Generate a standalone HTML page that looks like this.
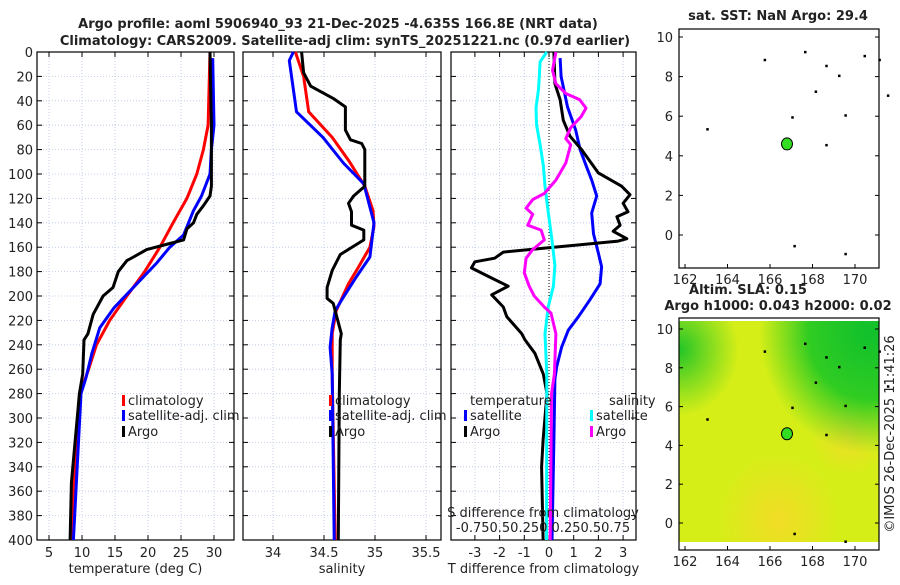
<!DOCTYPE html>
<html><head><meta charset="utf-8"><style>
body{margin:0;background:#fff;width:900px;height:580px;overflow:hidden}
svg{font-family:"DejaVu Sans","Liberation Sans",sans-serif}
</style></head><body>
<svg id="c" width="900" height="580" xmlns="http://www.w3.org/2000/svg">
<defs>
<radialGradient id="g1" cx="0.95" cy="0.05" r="0.55"><stop offset="0" stop-color="#10c02c"/><stop offset="0.55" stop-color="#30cc22"/><stop offset="1" stop-color="#3fd020" stop-opacity="0"/></radialGradient>
<radialGradient id="g2" cx="0" cy="0.13" r="0.3"><stop offset="0" stop-color="#20c428"/><stop offset="1" stop-color="#2fcb25" stop-opacity="0"/></radialGradient>
<radialGradient id="g3" cx="0.5" cy="0.9" r="0.3"><stop offset="0" stop-color="#f2dc26"/><stop offset="1" stop-color="#f2dc26" stop-opacity="0"/></radialGradient>
<radialGradient id="g4" cx="0.85" cy="0.5" r="0.2"><stop offset="0" stop-color="#f0dc28"/><stop offset="1" stop-color="#f0dc28" stop-opacity="0"/></radialGradient>
</defs>
</svg>
<script>
// ---- data (each series: depths + values) ----
const tempClimDepth = [0,60,80,100,120,140,160,180,200,220,240,260,280,318,359,400];
const tempClim = [29.4,29.1,28.4,27.4,25.9,23.8,21.8,19.5,16.8,14.2,12.2,11.0,9.7,9.2,8.7,8.4];
const tempSatDepth = [5,60,80,100,118,130,150,160,173,190,210,226,247,267,280,400];
const tempSat = [29.8,30.0,29.6,29.4,28.1,26.9,25.4,23.3,21.3,18.3,14.8,12.7,11.5,10.6,9.85,8.7];
const tempArgoDepth = [0,60,80,110,118,126,133,140,145,154,157,162,168,171,180,193,200,215,231,236,264,280,353,400];
const tempArgo = [29.4,29.6,29.6,29.6,29.4,28.4,27.4,26.9,25.9,25.4,23.3,19.8,17.8,16.8,15.5,14.7,13.2,11.7,10.9,10.3,10.1,9.6,8.4,8.2];
const salClimDepth = [0,20,49,70,90,110,130,143,160,176,190,212,231,264,400];
const salClim = [34.22,34.30,34.35,34.58,34.75,34.90,34.98,34.99,34.95,34.84,34.74,34.62,34.58,34.58,34.61];
const salSatDepth = [0,7,49,70,91,108,140,168,184,201,212,226,242,264,400];
const salSat = [34.20,34.16,34.23,34.49,34.69,34.89,34.99,34.95,34.82,34.69,34.61,34.58,34.56,34.58,34.60];
const salArgoDepth = [0,17,28,38,45,64,72,75,80,110,118,124,131,142,146,154,166,179,193,202,206,231,236,280,400];
const salArgo = [34.28,34.30,34.37,34.59,34.71,34.71,34.76,34.87,34.90,34.90,34.79,34.74,34.77,34.77,34.89,34.89,34.66,34.58,34.53,34.53,34.59,34.67,34.66,34.65,34.64];
const tDiffSatDepth = [5,20,45,64,80,94,105,118,132,149,165,176,190,203,217,228,242,258,268,318,400];
const tDiffSat = [0.45,0.49,0.75,1.08,1.26,1.52,1.73,1.93,1.73,1.8,2.0,2.13,2.07,1.66,1.19,0.78,0.51,0.31,0.24,0.2,0.12];
const tDiffArgoDepth = [0,26,39,56,69,80,99,110,117,124,131,135,142,147,153,155,164,169,172,177,184,192,199,209,217,231,236,247,264,280,318,340,400];
const tDiffArgo = [0.2,0.24,0.45,0.58,0.85,1.32,1.99,2.94,3.28,3.0,3.2,2.75,2.88,2.6,3.15,2.8,-1.85,-2.2,-3.0,-3.14,-2.45,-1.65,-2.32,-1.85,-1.71,-1.1,-0.97,-0.57,-0.23,-0.08,-0.24,-0.3,-0.24];
const sDiffSatDepth = [0,8,30,46,60,76,93,110,131,153,175,192,209,231,264,400];
const sDiffSat = [-0.022,-0.09,-0.105,-0.132,-0.125,-0.09,-0.058,-0.04,-0.008,0.028,0.06,0.045,-0.008,-0.04,-0.022,-0.025];
const sDiffArgoDepth = [0,15,26,34,39,46,53,62,71,76,91,105,116,121,128,133,142,146,154,162,169,181,192,200,209,214,231,264,280,400];
const sDiffArgo = [0.07,0.035,0.07,0.17,0.31,0.375,0.325,0.22,0.17,0.22,0.17,0.07,-0.048,-0.165,-0.232,-0.165,-0.215,-0.08,-0.048,-0.165,-0.232,-0.25,-0.2,-0.15,-0.048,0.02,0.07,0.055,0.025,0.012];
const depthTicks = [0,20,40,60,80,100,120,140,160,180,200,220,240,260,280,300,320,340,360,380,400];
const tempTicks = [5,10,15,20,25,30];
const salTicks = [34,34.5,35,35.5];
const tdTicks = [-3,-2,-1,0,1,2,3];
const lonTicks = [162,164,166,168,170];
const latTicks = [0,2,4,6,8,10];
const topMapDots = [[167.6,9.3],[168.6,8.6],[169.2,8.1],[170.4,9.1],[171.1,8.9],[171.5,7.1],[163.0,5.4],[167.0,6.0],[168.6,4.6],[169.5,6.1],[168.1,7.3],[167.1,-0.5],[169.5,-0.9],[165.7,8.9]];
const argoLon = 166.8, argoLat = 4.6;

const S = document.getElementById('c');
const NS = 'http://www.w3.org/2000/svg';
function mk(tag, attrs, parent, name, inter){
  const e = document.createElementNS(NS, tag);
  for (const k in attrs) e.setAttribute(k, attrs[k]);
  
  
  (parent||S).appendChild(e); return e;
}
function txt(x,y,s,opts,name){
  const t = mk('text', Object.assign({x:x,y:y,'font-size':13,fill:'#222','text-anchor':'middle'},opts||{}), S, name);
  t.textContent = s; return t;
}
const Y0 = 52, Y1 = 540;
const yD = d => Y0 + d/400*(Y1-Y0);

function panel(x0,x1,xf,ticks,tickFmt,label,showY,name){
  const g = mk('g',{},S,name);
  ticks.forEach(v=>{
    mk('line',{x1:xf(v),x2:xf(v),y1:Y0,y2:Y1,stroke:'#b8c4e8','stroke-width':0.8,'stroke-dasharray':'1,2'},g,'x-gridline');
    mk('line',{x1:xf(v),x2:xf(v),y1:Y1,y2:Y1-5,stroke:'#000'},g,'x-tick');
    mk('line',{x1:xf(v),x2:xf(v),y1:Y0,y2:Y0+5,stroke:'#000'},g,'x-tick');
    if(tickFmt) txt(xf(v),557,tickFmt(v),{},'x-tick-label');
  });
  depthTicks.forEach(d=>{
    mk('line',{x1:x0,x2:x1,y1:yD(d),y2:yD(d),stroke:'#b8c4e8','stroke-width':0.8,'stroke-dasharray':'1,2'},g,'y-gridline');
    mk('line',{x1:x0,x2:x0+5,y1:yD(d),y2:yD(d),stroke:'#000'},g,'y-tick');
    mk('line',{x1:x1,x2:x1-5,y1:yD(d),y2:yD(d),stroke:'#000'},g,'y-tick');
    if(showY) txt(x0-4,yD(d)+5,String(d),{'text-anchor':'end'},'y-tick-label');
  });
  mk('rect',{x:x0,y:Y0,width:x1-x0,height:Y1-Y0,fill:'none',stroke:'#000','stroke-width':1.2},g,'panel-frame');
  if(label) txt((x0+x1)/2,573,label,{},'x-axis-title');
  return g;
}
function curve(ds,vals,xf,color,name){
  const pts = ds.map((d,i)=>xf(vals[i]).toFixed(1)+','+yD(d).toFixed(1)).join(' ');
  mk('polyline',{points:pts,fill:'none',stroke:color,'stroke-width':3,'stroke-linejoin':'round'},S,name);
}
// panel 1 temperature
const xT = v => 16 + v*6.6;
panel(37,234,xT,tempTicks,v=>String(v),'temperature (deg C)',true,'temperature-panel');
curve(tempClimDepth,tempClim,xT,'#f00','temp-climatology-line');
curve(tempSatDepth,tempSat,xT,'#00f','temp-satellite-line');
curve(tempArgoDepth,tempArgo,xT,'#000','temp-argo-line');
// panel 2 salinity
const xS = v => 273 + (v-34)*102;
panel(243,441,xS,salTicks,v=>String(v),'salinity',false,'salinity-panel');
curve(salClimDepth,salClim,xS,'#f00','sal-climatology-line');
curve(salSatDepth,salSat,xS,'#00f','sal-satellite-line');
curve(salArgoDepth,salArgo,xS,'#000','sal-argo-line');
// panel 3 differences
const xD = v => 549 + v*24.7;
const xSD = v => 549 + v*4*24.7;
panel(451,636,xD,tdTicks,v=>String(v),'T difference from climatology',false,'difference-panel');
mk('line',{x1:xD(0),x2:xD(0),y1:Y0,y2:Y1,stroke:'#000','stroke-dasharray':'1,2'},S,'zero-line');
curve(tDiffSatDepth,tDiffSat,xD,'#00f','tdiff-satellite-line');
curve(tDiffArgoDepth,tDiffArgo,xD,'#000','tdiff-argo-line');
curve(sDiffSatDepth,sDiffSat,xSD,'#0ff','sdiff-satellite-line');
curve(sDiffArgoDepth,sDiffArgo,xSD,'#f0f','sdiff-argo-line');
txt(543,517,'S difference from climatology',{},'s-axis-title');
txt(543,532,'-0.750.50.250  0.250.50.75',{},'s-axis-tick-labels');

// legends
function leg(x,y,color,label,name){
  mk('rect',{x:x,y:y-10,width:3,height:11,fill:color},S,name+'-swatch');
  txt(x+6,y,label,{'text-anchor':'start'},name);
}
leg(122,405,'#f00','climatology','legend-climatology');
leg(122,420,'#00f','satellite-adj. clim','legend-satellite');
leg(122,436,'#000','Argo','legend-argo');
leg(329,405,'#f00','climatology','legend2-climatology');
leg(329,420,'#00f','satellite-adj. clim','legend2-satellite');
leg(329,436,'#000','Argo','legend2-argo');
txt(470,405,'temperature',{'text-anchor':'start'},'legend-temperature-title');
txt(609,405,'salinity',{'text-anchor':'start'},'legend-salinity-title');
leg(464,420,'#00f','satellite','legend-t-satellite');
leg(464,436,'#000','Argo','legend-t-argo');
leg(590,420,'#0ff','satellite','legend-s-satellite');
leg(590,436,'#f0f','Argo','legend-s-argo');

// titles
txt(338,28,'Argo profile: aoml 5906940_93 21-Dec-2025 -4.635S 166.8E (NRT data)',{'font-weight':'bold'},'main-title');
txt(345,45,'Climatology: CARS2009. Satellite-adj clim: synTS_20251221.nc (0.97d earlier)',{'font-weight':'bold'},'subtitle');

// maps
function map(x0,x1,y0,y1,lat10y,lat0y,fill,name){
  const xl = v => 685 + (v-162)*21.25;
  const yl = v => lat0y + (lat10y-lat0y)*v/10;
  const g = mk('g',{},S,name);
  if(fill){
    const fh = y1-(lat10y-8)-8;
    mk('rect',{x:x0,y:lat10y-8,width:x1-x0,height:fh,fill:'#d6ee18'},g,'sla-field');
    mk('rect',{x:x0,y:lat10y-8,width:x1-x0,height:fh,fill:'url(#g3)'},g,'sla-field-warm');
    mk('rect',{x:x0,y:lat10y-8,width:x1-x0,height:fh,fill:'url(#g4)'},g,'sla-field-warm2');
    mk('rect',{x:x0,y:lat10y-8,width:x1-x0,height:fh,fill:'url(#g1)'},g,'sla-field-high');
    mk('rect',{x:x0,y:lat10y-8,width:x1-x0,height:fh,fill:'url(#g2)'},g,'sla-field-high2');
  }
  lonTicks.forEach(v=>{
    mk('line',{x1:xl(v),x2:xl(v),y1:y1,y2:y1-4,stroke:'#000'},g,'map-x-tick');
    txt(xl(v),y1+16,String(v),{},'map-x-tick-label');
  });
  latTicks.forEach(v=>{
    mk('line',{x1:x0,x2:x0+4,y1:yl(v),y2:yl(v),stroke:'#000'},g,'map-y-tick');
    mk('line',{x1:x1,x2:x1-4,y1:yl(v),y2:yl(v),stroke:'#000'},g,'map-y-tick');
    txt(x0-6,yl(v)+5,String(v),{'text-anchor':'end'},'map-y-tick-label');
  });
  topMapDots.forEach(p=>{
    mk('rect',{x:xl(p[0]),y:yl(p[1]),width:2.5,height:2.5,fill:'#000'},g,'coastline-dot');
  });
  mk('ellipse',{cx:xl(argoLon),cy:yl(argoLat),rx:5.5,ry:6,fill:'#33dd22',stroke:'#000','stroke-width':1},g,'argo-location-marker');
  mk('rect',{x:x0,y:y0,width:x1-x0,height:y1-y0,fill:'none',stroke:'#000','stroke-width':1.2},g,'map-frame');
}
map(679,879,29,268,37,235,false,'sst-map');
txt(778,20,'sat. SST: NaN Argo: 29.4',{'font-weight':'bold'},'sst-map-title');
map(679,879,318,550,329,523,true,'sla-map');
txt(748,294,'Altim. SLA: 0.15',{'font-weight':'bold'},'sla-map-title');
txt(778,310,'Argo h1000: 0.043 h2000: 0.02',{'font-weight':'bold'},'sla-map-subtitle');
txt(0,0,'©IMOS 26-Dec-2025 11:41:26',{transform:'translate(894,434) rotate(-90)'},'copyright-stamp');
</script>
</body></html>
